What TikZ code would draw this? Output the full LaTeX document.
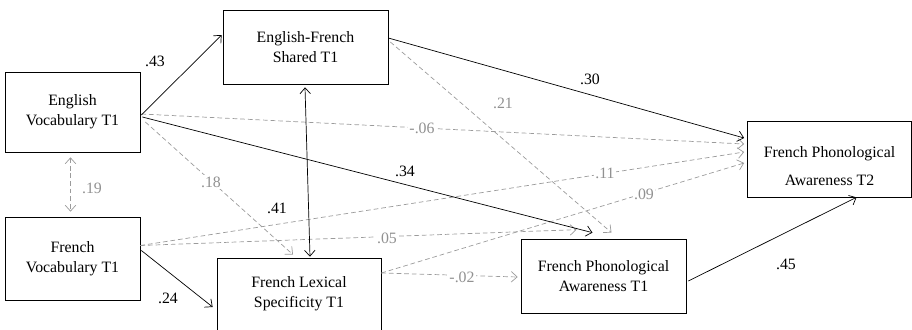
\documentclass[tikz,border=0pt]{standalone}
\usepackage{fontspec}
\setmainfont{Liberation Serif}
\usetikzlibrary{arrows.meta}
\definecolor{pathgray}{RGB}{155,155,155}
\definecolor{labelgray}{RGB}{145,145,145}
\begin{document}
\begin{tikzpicture}[x=0.03cm, y=-0.03cm,
		font=\fontsize{13.5}{17}\selectfont,
		box/.style={draw, line width=0.6pt, align=center, inner sep=0pt},
		sig/.style={line width=0.6pt, -{Straight Barb[length=5pt,width=9pt]}},
		nonsig/.style={line width=0.6pt, pathgray, dash pattern=on 4pt off 2.5pt, -{Straight Barb[length=5pt,width=9pt]}},
		glabel/.style={labelgray, fill=white, inner sep=1pt},
		blabel/.style={inner sep=1pt}
	]
	\useasboundingbox (0,0) rectangle (912,329);
	% variables
	\node[box, minimum width=4.05cm, minimum height=2.4cm] (ev) at (72.5,112) {English\\Vocabulary T1};
	\node[box, minimum width=4.95cm, minimum height=2.22cm] (efs) at (305.5,47) {English-French\\Shared T1};
	\node[box, minimum width=4.05cm, minimum height=2.49cm] (fv) at (72.5,258.5) {French\\Vocabulary T1};
	\node[box, minimum width=4.92cm, minimum height=2.16cm] (fls) at (299,294) {French Lexical\\Specificity T1};
	\node[box, minimum width=4.95cm, minimum height=2.22cm] (fpa1) at (603.5,276) {French Phonological\\Awareness T1};
	\node[box, minimum width=4.92cm, minimum height=2.28cm] (fpa2) at (829.5,159) {};
	\node[align=center, inner sep=0pt] (fpa2txt) at (829.5,166) {French Phonological\\[6.8pt]Awareness T2};
	% non-significant paths
	\draw[nonsig] ([shift={(1,2)}]ev.east) -- ([shift={(-3,-15)}]fpa2.west);
	\draw[nonsig] ([shift={(5,10)}]ev.east) -- ([shift={(-6,-3)}]fls.north);
	\draw[nonsig, {Straight Barb[length=5pt,width=9pt]}-{Straight Barb[length=5pt,width=9pt]}] ([shift={(-2,5)}]ev.south) -- ([shift={(-2,-5)}]fv.north);
	\draw[nonsig] ([shift={(2,-5)}]efs.east) -- ([shift={(8,-6)}]fpa1.north);
	\draw[nonsig] ([shift={(0,-13)}]fv.east) -- ([shift={(-3,-7)}]fpa2.west);
	\draw[nonsig] ([shift={(0,-13)}]fv.east) -- ([shift={(-27,-9)}]fpa1.north);
	\draw[nonsig] ([shift={(0,-21)}]fls.east) -- ([shift={(-3,4)}]fpa2.west);
	\draw[nonsig] ([shift={(0,-21)}]fls.east) -- ([shift={(-3,1)}]fpa1.west);
	% significant paths
	\draw[sig] ([shift={(1,3)}]ev.east) -- ([shift={(-1,-12)}]efs.west);
	\draw[sig] ([shift={(2,5)}]ev.east) -- ([shift={(-11,-6)}]fpa1.north);
	\draw[sig, {Straight Barb[length=5pt,width=9pt]}-{Straight Barb[length=5pt,width=9pt]}] ([shift={(-0.5,3)}]efs.south) -- ([shift={(11,-1)}]fls.north);
	\draw[sig] ([shift={(0,-9)}]efs.east) -- ([shift={(-3,-21)}]fpa2.west);
	\draw[sig] ([shift={(1,-8)}]fv.east) -- ([shift={(-4,13)}]fls.west);
	\draw[sig] ([shift={(2,5)}]fpa1.east) -- ([shift={(27,0)}]fpa2.south);
	% coefficients
	\node[blabel] (c43) at (155,61) {.43};
	\node[blabel] (c30) at (590,79) {.30};
	\node[blabel] (c34) at (405,171) {.34};
	\node[blabel] (c41) at (277,208) {.41};
	\node[blabel] (c24) at (168,298) {.24};
	\node[blabel] (c45) at (786,264) {.45};
	\node[glabel] (c06) at (422,128) {-.06};
	\node[glabel] (c18) at (211,182) {.18};
	\node[glabel, fill=none] (c19) at (92,188) {.19};
	\node[glabel, fill=none] (c21) at (503,103) {.21};
	\node[glabel] (c11) at (605,173) {.11};
	\node[glabel] (c05) at (387,238) {.05};
	\node[glabel] (c09) at (644,194) {.09};
	\node[glabel] (c02) at (462,277) {-.02};
\end{tikzpicture}
\end{document}
